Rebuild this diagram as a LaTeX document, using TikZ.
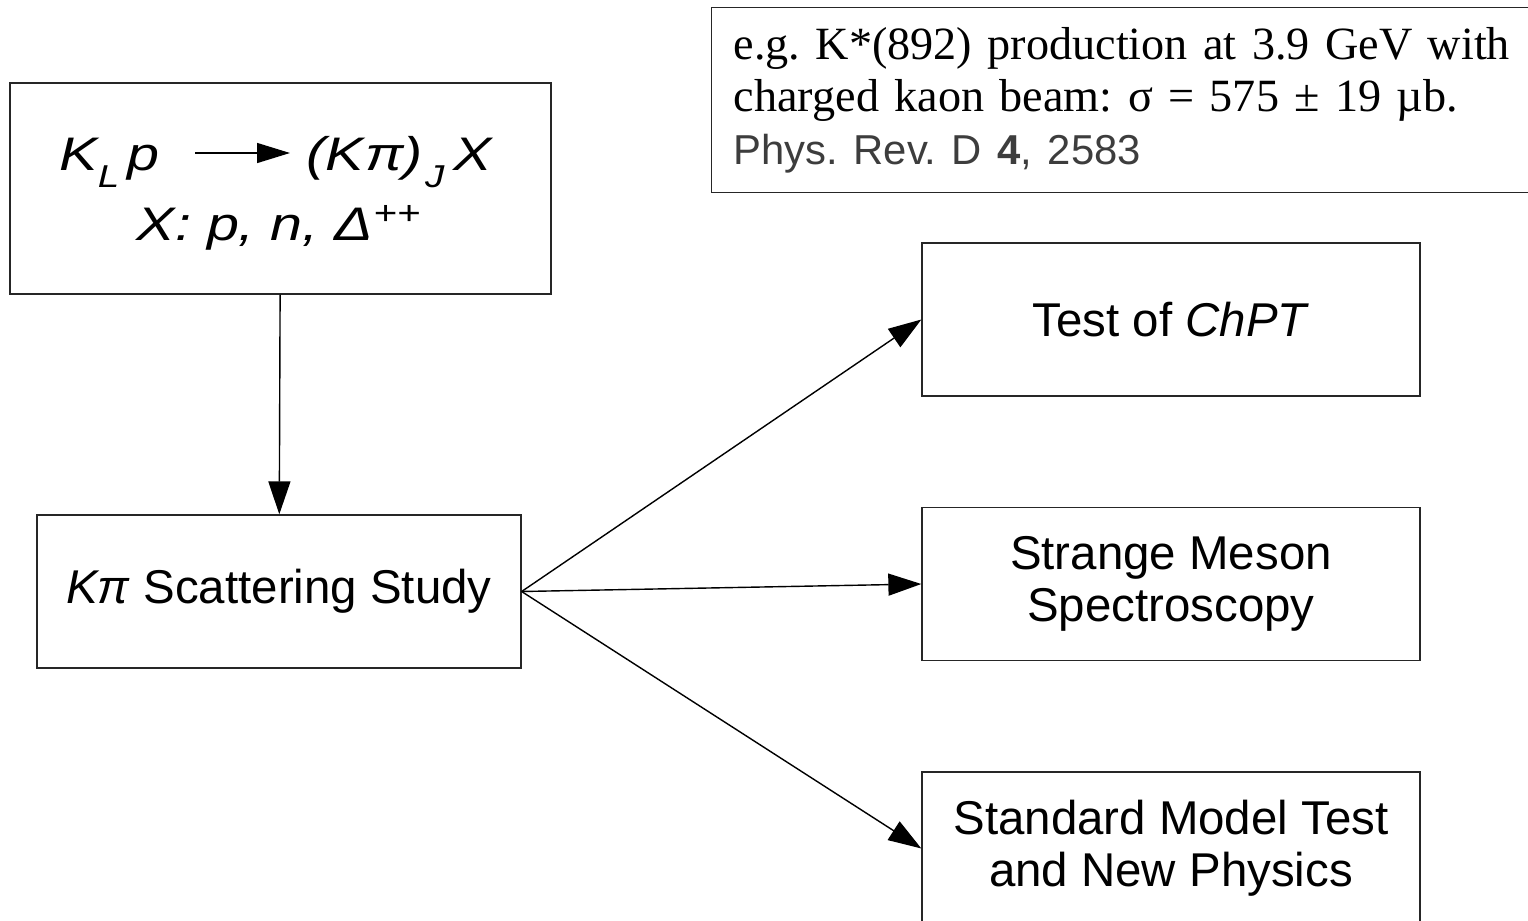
\documentclass[tikz,border=0pt]{standalone}
\usepackage{fontspec}
\setmainfont{Liberation Sans}
\newfontfamily\notefont{Liberation Serif}
\newfontfamily\reacfont[FakeStretch=1.22]{Liberation Sans}
\usetikzlibrary{arrows.meta}
\usepackage{xcolor}
\newcommand{\lowsub}[1]{\raisebox{-0.34cm}{\fontsize{18}{18}\selectfont #1}}
\frenchspacing

\begin{document}
\begin{tikzpicture}[x=0.02cm,y=-0.02cm,
    box/.style={draw=black!85,line width=0.8pt,minimum width=9.96cm,minimum height=3.06cm,align=center,font=\fontsize{27}{29.5}\selectfont},
    arr/.style={-{Triangle[length=6.6mm,width=4.4mm]},line width=0.8pt},
    lbl/.style={inner sep=0pt,font=\reacfont\fontsize{26.8}{32}\selectfont\itshape}]
    \useasboundingbox (0,0) rectangle (1528,920);
    % reaction box
    \node[draw=black!85,line width=0.8pt,minimum width=10.82cm,minimum height=4.22cm] (reac) at (280.5,188.5) {};
    \node[lbl,anchor=base east] (lhs)  at (160,170) {K\lowsub{L}\hspace{0.18em}p};
    \node[lbl,anchor=base west] (rhs)  at (306,170) {(K\kern0.03em π)\kern0.05em\lowsub{J}\hspace{0.2em}X};
    \node[lbl,anchor=base]      (xval) at (279,240) {X: p, n, Δ\textsuperscript{++}};
    \draw[-{Triangle[length=6.6mm,width=4mm]},line width=0.8pt]
        ([shift={(35,-17)}]lhs.base east) -- ([shift={(-16,-17)}]rhs.base west);
    % reference note
    \node[draw=black!85,line width=0.8pt,anchor=north west,minimum height=3.7cm,inner xsep=0.44cm,
          text width=17cm,align=left,font=\notefont\fontsize{26.3}{30}\selectfont] (note) at (711,7)
        {e.g. K*(892) production at 3.9 GeV with\\
         charged kaon beam: σ = 575 ± 19 µb.\\
         {\rmfamily\fontsize{23.8}{28}\selectfont\color{black!76}Phys. Rev. D \textbf{4}, 2583}};
    % study and goals
    \node[box,minimum width=9.68cm] (scat) at (279,591.5) {\textit{Kπ} Scattering Study};
    \node[box] (chpt)   at (1171,319.5) {Test of \textit{ChPT}};
    \node[box] (meson)  at (1171,584)   {Strange Meson\\Spectroscopy};
    \node[box] (smodel) at (1171,848.5) {Standard Model Test\\and New Physics};
    \draw[arr] (reac) -- (scat);
    \draw[arr] (scat.east) -- (chpt.west);
    \draw[arr] (scat.east) -- (meson.west);
    \draw[arr] (scat.east) -- (smodel.west);
\end{tikzpicture}
\end{document}
